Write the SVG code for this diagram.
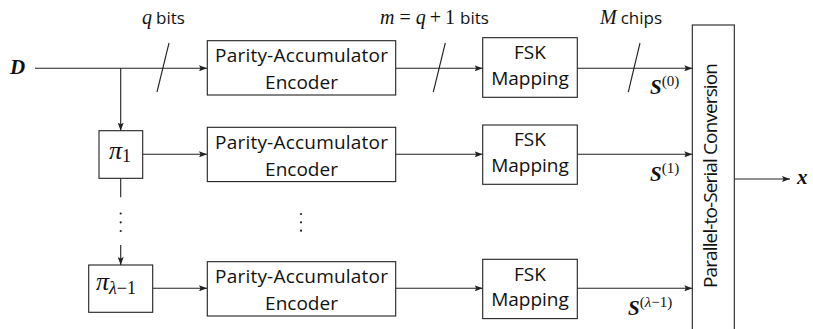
<svg xmlns="http://www.w3.org/2000/svg" width="813" height="329" viewBox="0 0 813 329">
<defs>
<marker id="arr" viewBox="0 0 8 6" refX="8" refY="3" markerWidth="8" markerHeight="6" markerUnits="userSpaceOnUse" orient="auto">
<path d="M0,0 L8,3 L0,6 L1.5,3 Z" fill="#222"/>
</marker>
</defs>
<style>
.box{fill:#fff;stroke:#222;stroke-width:1.1}
.ln{fill:none;stroke:#222;stroke-width:1.1}
.t{font-family:"Open Sans","Noto Sans",sans-serif;font-size:19px;fill:#111;text-anchor:middle}
.s{font-family:"Open Sans","Noto Sans",sans-serif;font-size:17px;fill:#111}
.m{font-family:"Liberation Serif",serif;font-style:italic;font-size:20px;fill:#111}
.mr{font-family:"Liberation Serif",serif;font-size:20px;fill:#111}
.b{font-family:"Liberation Serif",serif;font-style:italic;font-weight:bold;font-size:21px;fill:#111}
.pi{font-family:"Liberation Serif",serif;font-style:italic;font-size:26px;fill:#111}
.sup{font-family:"Liberation Serif",serif;font-size:15px;fill:#111}
.supi{font-family:"Liberation Serif",serif;font-style:italic;font-size:15px;fill:#111}
.sub{font-family:"Liberation Serif",serif;font-size:18px;fill:#111}
.subi{font-family:"Liberation Serif",serif;font-style:italic;font-size:18px;fill:#111}
.dot{fill:#222}
</style>

<g id="connectors">
<line class="ln" x1="35" y1="68.3" x2="207" y2="68.3" marker-end="url(#arr)"/>
<line class="ln" x1="120.7" y1="68.3" x2="120.7" y2="130.7" marker-end="url(#arr)"/>
<line class="ln" x1="120.7" y1="178.3" x2="120.7" y2="197.3"/>
<circle class="dot" cx="120.7" cy="213.5" r="1.1"/>
<circle class="dot" cx="120.7" cy="222.3" r="1.1"/>
<circle class="dot" cx="120.7" cy="231" r="1.1"/>
<line class="ln" x1="120.7" y1="245" x2="120.7" y2="265" marker-end="url(#arr)"/>
<line class="ln" x1="142.7" y1="154.3" x2="207" y2="154.3" marker-end="url(#arr)"/>
<line class="ln" x1="152.7" y1="288.3" x2="207" y2="288.3" marker-end="url(#arr)"/>
<line class="ln" x1="395.7" y1="68.3" x2="482.7" y2="68.3" marker-end="url(#arr)"/>
<line class="ln" x1="395.7" y1="154.3" x2="482.7" y2="154.3" marker-end="url(#arr)"/>
<line class="ln" x1="395.7" y1="288.3" x2="482.7" y2="288.3" marker-end="url(#arr)"/>
<line class="ln" x1="577.3" y1="68.3" x2="692.3" y2="68.3" marker-end="url(#arr)"/>
<line class="ln" x1="577.3" y1="154.3" x2="692.3" y2="154.3" marker-end="url(#arr)"/>
<line class="ln" x1="577.3" y1="288.3" x2="692.3" y2="288.3" marker-end="url(#arr)"/>
<line class="ln" x1="734.3" y1="179" x2="790" y2="179" marker-end="url(#arr)"/>
<line class="ln" x1="169" y1="43" x2="157" y2="92"/>
<line class="ln" x1="445.3" y1="43" x2="433.3" y2="92"/>
<line class="ln" x1="640" y1="43" x2="628.3" y2="92"/>
<circle class="dot" cx="301" cy="214" r="1.1"/>
<circle class="dot" cx="301" cy="222.3" r="1.1"/>
<circle class="dot" cx="301" cy="230.7" r="1.1"/>
</g>

<g id="labels">
<text class="b" x="10" y="74">D</text>
<text x="142" y="24"><tspan class="m">q</tspan><tspan class="s" dx="4">bits</tspan></text>
<text x="380" y="24"><tspan class="m">m</tspan><tspan class="mr" dx="5">=</tspan><tspan class="m" dx="5">q</tspan><tspan class="mr" dx="4">+</tspan><tspan class="mr" dx="4">1</tspan><tspan class="s" dx="5">bits</tspan></text>
<text x="600" y="24"><tspan class="m">M</tspan><tspan class="s" dx="4">chips</tspan></text>
<text x="650" y="94"><tspan class="b">S</tspan><tspan class="sup" dy="-8">(0)</tspan></text>
<text x="650" y="181"><tspan class="b">S</tspan><tspan class="sup" dy="-8">(1)</tspan></text>
<text x="628" y="315"><tspan class="b">S</tspan><tspan class="sup" dy="-8">(</tspan><tspan class="supi">λ</tspan><tspan class="sup">−1)</tspan></text>
<text class="b" x="797" y="184">x</text>
</g>

<g id="pi1">
<rect class="box" x="99" y="130.7" width="43.7" height="47.6"/>
<text x="109" y="159"><tspan class="pi">π</tspan><tspan class="sub" dy="3">1</tspan></text>
</g>
<g id="pilam">
<rect class="box" x="88.7" y="265" width="64" height="47.3"/>
<text x="96" y="290"><tspan class="pi">π</tspan><tspan class="subi" dy="4">λ</tspan><tspan class="sub">−1</tspan></text>
</g>

<g id="enc0">
<rect class="box" x="207.3" y="40.7" width="188.4" height="54.3"/>
<text class="t" x="301.5" y="62.3" textLength="173">Parity-Accumulator</text>
<text class="t" x="301.5" y="89">Encoder</text>
</g>
<g id="enc1">
<rect class="box" x="207.3" y="127.3" width="188.4" height="54.3"/>
<text class="t" x="301.5" y="148.8" textLength="173">Parity-Accumulator</text>
<text class="t" x="301.5" y="175.5">Encoder</text>
</g>
<g id="enc2">
<rect class="box" x="207.3" y="261.7" width="188.4" height="54.3"/>
<text class="t" x="301.5" y="283.2" textLength="173">Parity-Accumulator</text>
<text class="t" x="301.5" y="310">Encoder</text>
</g>

<g id="fsk0">
<rect class="box" x="482.7" y="37.7" width="94.6" height="59.6"/>
<text class="t" x="530" y="59.3">FSK</text>
<text class="t" x="530" y="85">Mapping</text>
</g>
<g id="fsk1">
<rect class="box" x="482.7" y="125" width="94.6" height="59.3"/>
<text class="t" x="530" y="146.3">FSK</text>
<text class="t" x="530" y="172">Mapping</text>
</g>
<g id="fsk2">
<rect class="box" x="482.7" y="259.3" width="94.6" height="59.3"/>
<text class="t" x="530" y="280.6">FSK</text>
<text class="t" x="530" y="306.3">Mapping</text>
</g>

<g id="p2s">
<rect class="box" x="692.3" y="25" width="42" height="320"/>
<text class="t" x="0" y="0" font-size="16" textLength="225" transform="translate(716.7,175.5) rotate(-90)">Parallel-to-Serial Conversion</text>
</g>
</svg>
